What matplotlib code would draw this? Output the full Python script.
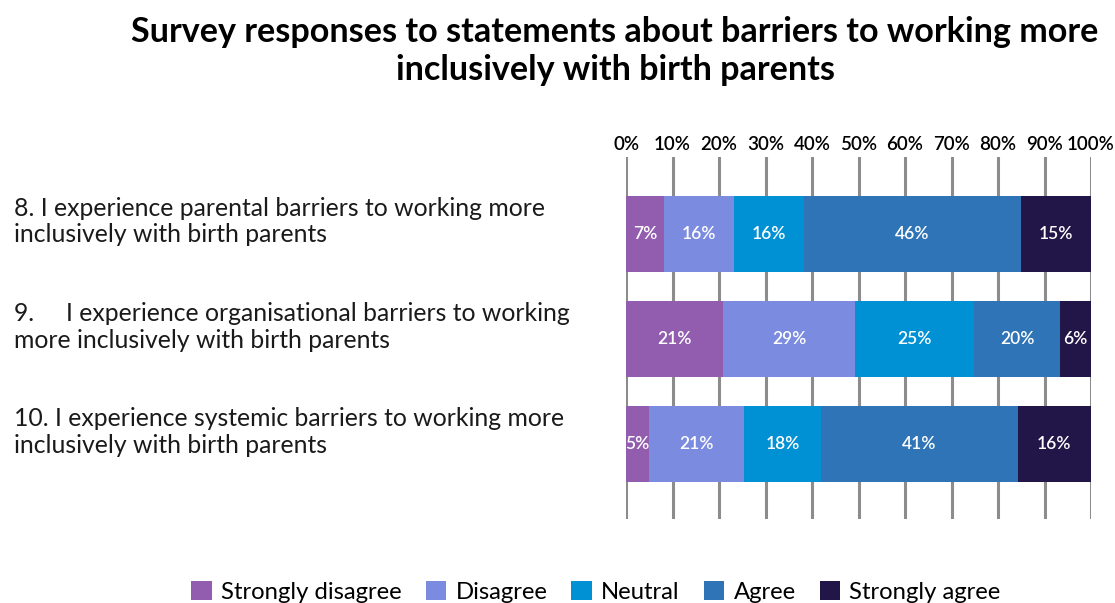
import matplotlib
matplotlib.use("Agg")
import matplotlib.pyplot as plt
from matplotlib.transforms import blended_transform_factory
from matplotlib.patches import Patch
import numpy as np

plt.rcParams['font.family'] = ['Lato', 'DejaVu Sans']

title = "Survey responses to statements about barriers to working more\ninclusively with birth parents"
statements = [
    "8. I experience parental barriers to working more\ninclusively with birth parents",
    "9.     I experience organisational barriers to working\nmore inclusively with birth parents",
    "10. I experience systemic barriers to working more\ninclusively with birth parents",
]
categories = ["Strongly disagree", "Disagree", "Neutral", "Agree", "Strongly agree"]
colors = ["#935DAF", "#7A8BE0", "#0091D5", "#2E74B7", "#221547"]

# segment widths (%) as drawn
strongly_disagree = [8.2, 20.9, 5.0]
disagree = [15.0, 28.4, 20.4]
neutral = [15.0, 25.6, 16.6]
agree = [46.7, 18.5, 42.2]
strongly_agree = [15.1, 6.6, 15.8]
# printed labels
lab_strongly_disagree = ["7%", "21%", "5%"]
lab_disagree = ["16%", "29%", "21%"]
lab_neutral = ["16%", "25%", "18%"]
lab_agree = ["46%", "20%", "41%"]
lab_strongly_agree = ["15%", "6%", "16%"]

series = [strongly_disagree, disagree, neutral, agree, strongly_agree]
labels = [lab_strongly_disagree, lab_disagree, lab_neutral, lab_agree, lab_strongly_agree]
xticks = list(range(0, 101, 10))

W, H = 1115, 603
fig = plt.figure(figsize=(W / 100, H / 100), dpi=100)
ax = fig.add_axes([626 / W, 1 - 519 / H, 465 / W, 362 / H])

y = np.arange(len(statements))
for xt in xticks:
    ax.axvline(xt, color="#8C8C8C", lw=2.2, zorder=0)

left = np.zeros(len(statements))
for vals, labs, col in zip(series, labels, colors):
    vals = np.array(vals)
    ax.barh(y, vals, left=left, height=0.724, color=col, zorder=2)
    for yi, v, l, lb in zip(y, vals, left, labs):
        ax.text(l + v / 2, yi, lb, ha="center", va="center", color="white",
                fontsize=12.5, fontweight="semibold", zorder=3)
    left += vals

ax.set_xlim(0, 100)
ax.set_ylim(2.717, -0.730)
ax.xaxis.tick_top()
ax.set_xticks(xticks)
ax.set_xticklabels([f"{t}%" for t in xticks], fontsize=13.5, fontweight="semibold")
ax.tick_params(axis="x", length=0, pad=3)
ax.set_yticks([])
for s in ax.spines.values():
    s.set_visible(False)

tr = blended_transform_factory(fig.transFigure, ax.transData)
for yi, st in zip(y, statements):
    ax.text(14 / W, yi - 0.115, st, transform=tr, ha="left", va="center",
            fontsize=17.8, color="#1a1a1a", linespacing=1.2)

fig.text(615 / W, 1 - 51 / H, title, ha="center", va="center", fontsize=24.6,
         fontweight="bold", linespacing=1.2)

handles = [Patch(facecolor=c, edgecolor="none") for c in colors]
fig.legend(handles, categories, loc="center", bbox_to_anchor=(596 / W, 1 - 592 / H),
           ncol=5, frameon=False, fontsize=17.2, handlelength=0.85, handleheight=0.85,
           handletextpad=0.4, columnspacing=1.0)

fig.savefig("out.png", dpi=100)
